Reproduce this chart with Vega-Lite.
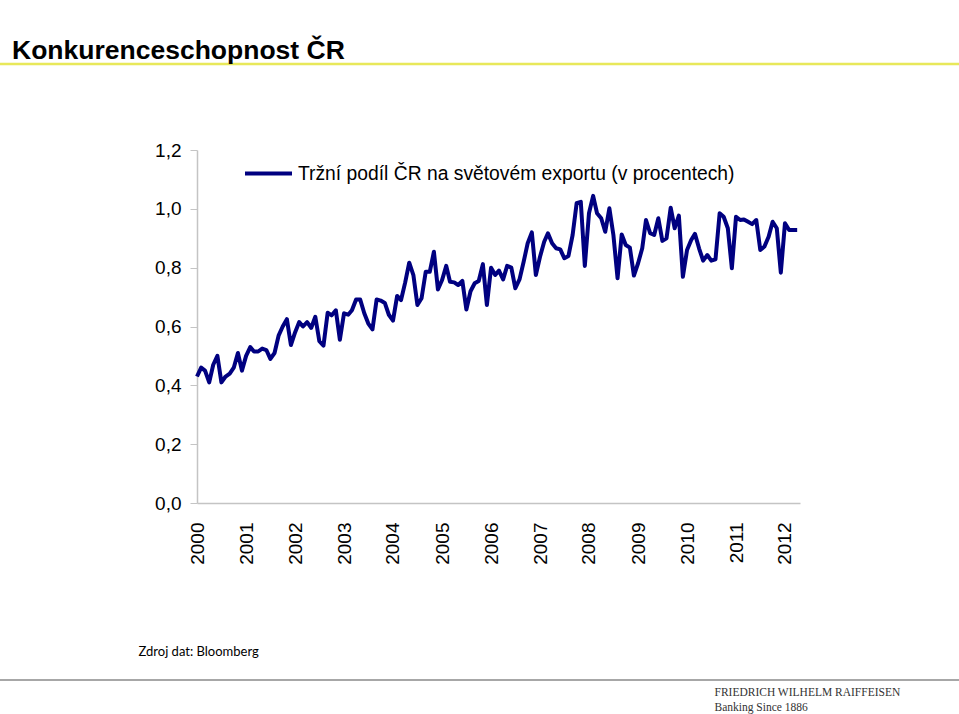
{
  "$schema": "https://vega.github.io/schema/vega-lite/v6.json",
  "width": 603,
  "height": 353,
  "autosize": "none",
  "padding": {"left": 197, "top": 150, "right": 159, "bottom": 211},
  "background": "white",
  "config": {"view": {"stroke": null}, "font": "Liberation Sans"},
  "title": {
    "text": "Konkurenceschopnost ČR",
    "anchor": "start",
    "frame": "group",
    "dx": -185,
    "offset": -23,
    "baseline": "alphabetic",
    "font": "Liberation Sans",
    "fontSize": 26.5,
    "fontWeight": "bold",
    "color": "black"
  },
  "layer": [
    {
      "data": {"values": [{}]},
      "mark": {"type": "rule", "color": "#e8e85a", "strokeWidth": 2.5},
      "encoding": {
        "x": {"datum": {"year": 1995, "month": 11, "date": 1, "utc": true}, "type": "temporal"},
        "x2": {"datum": {"year": 2015, "month": 10, "date": 1, "utc": true}},
        "y": {"datum": 1.4923, "type": "quantitative"}
      }
    },
    {
      "data": {"values": [{}]},
      "mark": {"type": "rule", "color": "#8a8a8a", "strokeWidth": 1.5},
      "encoding": {
        "x": {"datum": {"year": 1995, "month": 11, "date": 1, "utc": true}, "type": "temporal"},
        "x2": {"datum": {"year": 2015, "month": 10, "date": 1, "utc": true}},
        "y": {"datum": -0.6017, "type": "quantitative"}
      }
    },
    {
      "data": {"values": [
        {"d":"2000-01-01","v":0.43},{"d":"2000-02-01","v":0.46},{"d":"2000-03-01","v":0.45},{"d":"2000-04-01","v":0.41},{"d":"2000-05-01","v":0.47},{"d":"2000-06-01","v":0.50},{"d":"2000-07-01","v":0.41},{"d":"2000-08-01","v":0.43},{"d":"2000-09-01","v":0.44},{"d":"2000-10-01","v":0.46},{"d":"2000-11-01","v":0.51},{"d":"2000-12-01","v":0.45},
        {"d":"2001-01-01","v":0.50},{"d":"2001-02-01","v":0.53},{"d":"2001-03-01","v":0.515},{"d":"2001-04-01","v":0.515},{"d":"2001-05-01","v":0.525},{"d":"2001-06-01","v":0.52},{"d":"2001-07-01","v":0.49},{"d":"2001-08-01","v":0.51},{"d":"2001-09-01","v":0.57},{"d":"2001-10-01","v":0.60},{"d":"2001-11-01","v":0.625},{"d":"2001-12-01","v":0.537},
        {"d":"2002-01-01","v":0.58},{"d":"2002-02-01","v":0.615},{"d":"2002-03-01","v":0.60},{"d":"2002-04-01","v":0.615},{"d":"2002-05-01","v":0.595},{"d":"2002-06-01","v":0.633},{"d":"2002-07-01","v":0.55},{"d":"2002-08-01","v":0.535},{"d":"2002-09-01","v":0.647},{"d":"2002-10-01","v":0.638},{"d":"2002-11-01","v":0.655},{"d":"2002-12-01","v":0.555},
        {"d":"2003-01-01","v":0.645},{"d":"2003-02-01","v":0.64},{"d":"2003-03-01","v":0.655},{"d":"2003-04-01","v":0.692},{"d":"2003-05-01","v":0.692},{"d":"2003-06-01","v":0.645},{"d":"2003-07-01","v":0.61},{"d":"2003-08-01","v":0.59},{"d":"2003-09-01","v":0.692},{"d":"2003-10-01","v":0.688},{"d":"2003-11-01","v":0.68},{"d":"2003-12-01","v":0.64},
        {"d":"2004-01-01","v":0.62},{"d":"2004-02-01","v":0.704},{"d":"2004-03-01","v":0.69},{"d":"2004-04-01","v":0.75},{"d":"2004-05-01","v":0.817},{"d":"2004-06-01","v":0.775},{"d":"2004-07-01","v":0.673},{"d":"2004-08-01","v":0.696},{"d":"2004-09-01","v":0.786},{"d":"2004-10-01","v":0.786},{"d":"2004-11-01","v":0.854},{"d":"2004-12-01","v":0.726},
        {"d":"2005-01-01","v":0.758},{"d":"2005-02-01","v":0.806},{"d":"2005-03-01","v":0.752},{"d":"2005-04-01","v":0.75},{"d":"2005-05-01","v":0.741},{"d":"2005-06-01","v":0.755},{"d":"2005-07-01","v":0.658},{"d":"2005-08-01","v":0.72},{"d":"2005-09-01","v":0.747},{"d":"2005-10-01","v":0.755},{"d":"2005-11-01","v":0.812},{"d":"2005-12-01","v":0.673},
        {"d":"2006-01-01","v":0.80},{"d":"2006-02-01","v":0.775},{"d":"2006-03-01","v":0.79},{"d":"2006-04-01","v":0.76},{"d":"2006-05-01","v":0.806},{"d":"2006-06-01","v":0.80},{"d":"2006-07-01","v":0.73},{"d":"2006-08-01","v":0.76},{"d":"2006-09-01","v":0.82},{"d":"2006-10-01","v":0.883},{"d":"2006-11-01","v":0.92},{"d":"2006-12-01","v":0.775},
        {"d":"2007-01-01","v":0.837},{"d":"2007-02-01","v":0.888},{"d":"2007-03-01","v":0.917},{"d":"2007-04-01","v":0.883},{"d":"2007-05-01","v":0.866},{"d":"2007-06-01","v":0.862},{"d":"2007-07-01","v":0.832},{"d":"2007-08-01","v":0.84},{"d":"2007-09-01","v":0.911},{"d":"2007-10-01","v":1.019},{"d":"2007-11-01","v":1.024},{"d":"2007-12-01","v":0.806},
        {"d":"2008-01-01","v":0.985},{"d":"2008-02-01","v":1.044},{"d":"2008-03-01","v":0.985},{"d":"2008-04-01","v":0.968},{"d":"2008-05-01","v":0.922},{"d":"2008-06-01","v":1.002},{"d":"2008-07-01","v":0.911},{"d":"2008-08-01","v":0.764},{"d":"2008-09-01","v":0.913},{"d":"2008-10-01","v":0.877},{"d":"2008-11-01","v":0.868},{"d":"2008-12-01","v":0.773},
        {"d":"2009-01-01","v":0.815},{"d":"2009-02-01","v":0.866},{"d":"2009-03-01","v":0.962},{"d":"2009-04-01","v":0.917},{"d":"2009-05-01","v":0.911},{"d":"2009-06-01","v":0.968},{"d":"2009-07-01","v":0.891},{"d":"2009-08-01","v":0.90},{"d":"2009-09-01","v":1.004},{"d":"2009-10-01","v":0.934},{"d":"2009-11-01","v":0.977},{"d":"2009-12-01","v":0.769},
        {"d":"2010-01-01","v":0.86},{"d":"2010-02-01","v":0.894},{"d":"2010-03-01","v":0.915},{"d":"2010-04-01","v":0.865},{"d":"2010-05-01","v":0.824},{"d":"2010-06-01","v":0.843},{"d":"2010-07-01","v":0.824},{"d":"2010-08-01","v":0.828},{"d":"2010-09-01","v":0.985},{"d":"2010-10-01","v":0.973},{"d":"2010-11-01","v":0.934},{"d":"2010-12-01","v":0.798},
        {"d":"2011-01-01","v":0.973},{"d":"2011-02-01","v":0.962},{"d":"2011-03-01","v":0.964},{"d":"2011-04-01","v":0.956},{"d":"2011-05-01","v":0.948},{"d":"2011-06-01","v":0.962},{"d":"2011-07-01","v":0.86},{"d":"2011-08-01","v":0.872},{"d":"2011-09-01","v":0.905},{"d":"2011-10-01","v":0.956},{"d":"2011-11-01","v":0.934},{"d":"2011-12-01","v":0.783},
        {"d":"2012-01-01","v":0.951},{"d":"2012-02-01","v":0.928},{"d":"2012-03-01","v":0.928},{"d":"2012-04-01","v":0.928}
      ]},
      "mark": {"type": "line", "strokeWidth": 4, "strokeJoin": "round", "strokeCap": "butt"},
      "encoding": {
        "x": {
          "field": "d",
          "type": "temporal",
          "scale": {"type": "utc", "domain": [{"year": 2000, "month": 1, "date": 1, "utc": true}, {"year": 2012, "month": 4, "date": 22, "utc": true}]},
          "axis": {
            "title": "Zdroj dat: Bloomberg",
            "titleX": -59,
            "titleY": 152,
            "titleAlign": "left",
            "titleAnchor": "start",
            "titleBaseline": "alphabetic",
            "titleAngle": 0,
            "titleFont": "Lato",
            "titleFontSize": 13,
            "titleFontWeight": "normal",
            "titleColor": "black",
            "format": "%Y",
            "tickCount": {"interval": "year", "step": 1},
            "labelAngle": -90,
            "labelFont": "Liberation Sans",
            "labelFontSize": 19,
            "labelColor": "black",
            "labelPadding": 19,
            "labelOverlap": false,
            "labelFlush": false,
            "ticks": false,
            "tickSize": 0,
            "domainColor": "#c4c4c4",
            "domainWidth": 1.5,
            "grid": false
          }
        },
        "y": {
          "field": "v",
          "type": "quantitative",
          "scale": {"domain": [0, 1.2]},
          "axis": {
            "values": [0, 0.2, 0.4, 0.6, 0.8, 1, 1.2],
            "labelExpr": "replace(format(datum.value, '.1f'), '.', ',')",
            "labelFont": "Liberation Sans",
            "labelFontSize": 19,
            "labelColor": "black",
            "labelPadding": 9,
            "tickSize": 7,
            "tickColor": "#c4c4c4",
            "domainColor": "#c4c4c4",
            "domainWidth": 1.5,
            "grid": false,
            "title": ["FRIEDRICH WILHELM RAIFFEISEN", "Banking Since 1886"],
            "titleAngle": 0,
            "titleX": 517,
            "titleY": 536,
            "titleAlign": "left",
            "titleAnchor": "start",
            "titleBaseline": "top",
            "titleFont": "Liberation Serif",
            "titleFontSize": 11.5,
            "titleFontWeight": "normal",
            "titleLineHeight": 15,
            "titleColor": "#333333"
          }
        },
        "color": {
          "datum": "Tržní podíl ČR na světovém exportu (v procentech)",
          "type": "nominal",
          "scale": {"range": ["#000080"]},
          "legend": {
            "orient": "none",
            "legendX": 46,
            "legendY": -2,
            "title": null,
            "padding": 0,
            "symbolType": "stroke",
            "symbolStrokeWidth": 4,
            "symbolSize": 2209,
            "labelFont": "Liberation Sans",
            "labelFontSize": 19.3,
            "labelColor": "black",
            "labelLimit": 700,
            "labelOffset": 4
          }
        }
      }
    }
  ]
}
